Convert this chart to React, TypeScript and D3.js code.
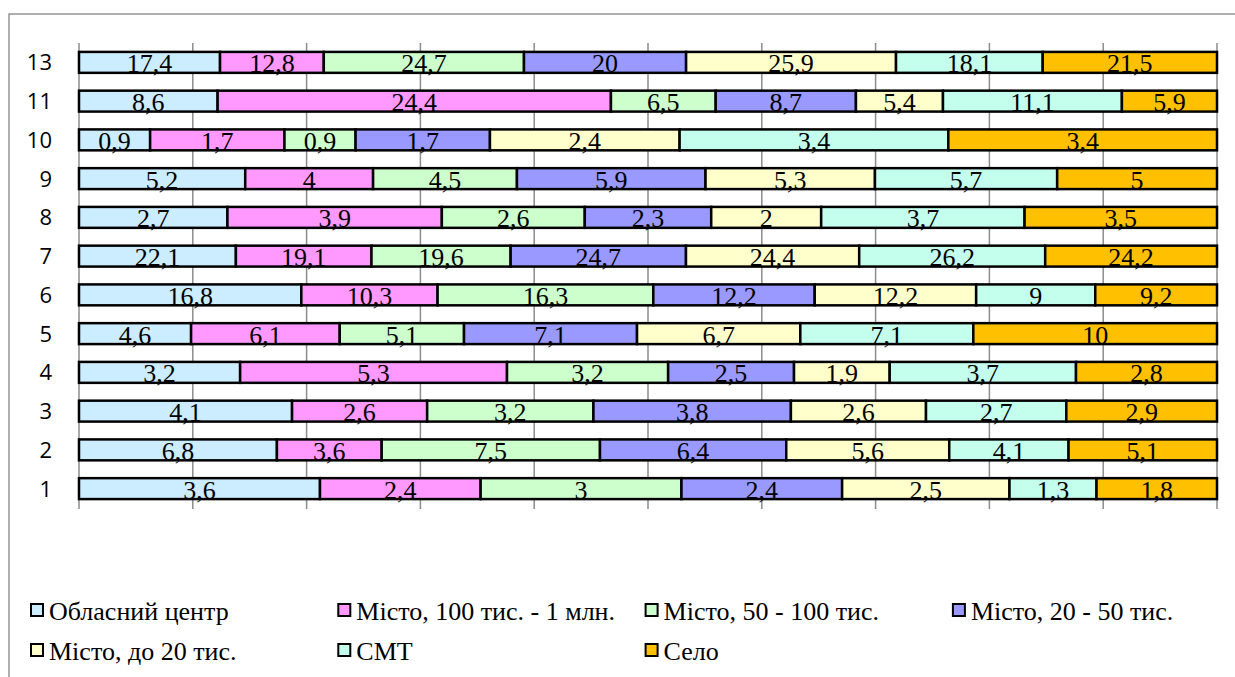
import React, { useEffect, useRef } from "react";
import * as d3 from "d3";

const categories = ["1", "2", "3", "4", "5", "6", "7", "8", "9", "10", "11", "13"];

const seriesNames = [
  "Обласний центр",
  "Місто, 100 тис. - 1 млн.",
  "Місто, 50 - 100 тис.",
  "Місто, 20 - 50 тис.",
  "Місто, до 20 тис.",
  "СМТ",
  "Село",
];

const oblCentr = [3.6, 6.8, 4.1, 3.2, 4.6, 16.8, 22.1, 2.7, 5.2, 0.9, 8.6, 17.4];
const misto100 = [2.4, 3.6, 2.6, 5.3, 6.1, 10.3, 19.1, 3.9, 4, 1.7, 24.4, 12.8];
const misto50 = [3, 7.5, 3.2, 3.2, 5.1, 16.3, 19.6, 2.6, 4.5, 0.9, 6.5, 24.7];
const misto20 = [2.4, 6.4, 3.8, 2.5, 7.1, 12.2, 24.7, 2.3, 5.9, 1.7, 8.7, 20];
const mistoDo20 = [2.5, 5.6, 2.6, 1.9, 6.7, 12.2, 24.4, 2, 5.3, 2.4, 5.4, 25.9];
const smt = [1.3, 4.1, 2.7, 3.7, 7.1, 9, 26.2, 3.7, 5.7, 3.4, 11.1, 18.1];
const selo = [1.8, 5.1, 2.9, 2.8, 10, 9.2, 24.2, 3.5, 5, 3.4, 5.9, 21.5];

const seriesValues = [oblCentr, misto100, misto50, misto20, mistoDo20, smt, selo];
const colors = ["#CCECFF", "#FF99FF", "#CCFFCC", "#9999FF", "#FFFFCC", "#C4FFEE", "#FFC000"];
const xTicks = d3.range(0, 1.0001, 0.1);

const serif = "'Liberation Serif', 'Times New Roman', serif";

const App: React.FC = () => {
  const svgRef = useRef<SVGSVGElement | null>(null);
  const width = 1235;
  const height = 677;

  useEffect(() => {
    const svg = d3.select(svgRef.current);
    svg.selectAll("*").remove();

    // chart frame (right and bottom edges fall outside the picture)
    svg.append("rect")
      .attr("x", 9).attr("y", 14)
      .attr("width", 1300).attr("height", 700)
      .attr("fill", "white").attr("stroke", "#959595").attr("stroke-width", 1.5);

    const table = categories.map((c, i) => {
      const row: any = { cat: c };
      seriesNames.forEach((s, j) => (row[s] = seriesValues[j][i]));
      return row;
    });

    const stacked = d3.stack<any>().keys(seriesNames).offset(d3.stackOffsetExpand)(table);

    const x = d3.scaleLinear().domain([0, 1]).range([79, 1217]);
    const y = d3.scaleBand()
      .domain([...categories].reverse())
      .range([43, 508])
      .paddingInner(0.46)
      .paddingOuter(0.23);

    // grid
    svg.append("g")
      .selectAll("line")
      .data(xTicks)
      .enter()
      .append("line")
      .attr("x1", d => x(d)).attr("x2", d => x(d))
      .attr("y1", 43).attr("y2", 509)
      .attr("stroke", "#8c8c8c").attr("stroke-width", 1.5);

    const layers = svg.append("g")
      .selectAll("g")
      .data(stacked)
      .enter()
      .append("g")
      .attr("fill", (d, i) => colors[i]);

    layers.selectAll("rect")
      .data(d => d)
      .enter()
      .append("rect")
      .attr("x", d => x(d[0]))
      .attr("y", d => y(d.data.cat) as number)
      .attr("width", d => x(d[1]) - x(d[0]))
      .attr("height", y.bandwidth())
      .attr("stroke", "black")
      .attr("stroke-width", 2.5);

    // value labels
    stacked.forEach((layer, j) => {
      svg.append("g")
        .selectAll("text")
        .data(layer)
        .enter()
        .append("text")
        .attr("x", d => (x(d[0]) + x(d[1])) / 2)
        .attr("y", d => (y(d.data.cat) as number) + y.bandwidth() - 0.5)
        .attr("text-anchor", "middle")
        .style("font-family", serif)
        .style("font-size", "26px")
        .attr("fill", "#000")
        .text((d, i) => String(seriesValues[j][i]).replace(".", ","));
    });

    // category labels
    svg.append("g")
      .selectAll("text")
      .data(categories)
      .enter()
      .append("text")
      .attr("x", 52)
      .attr("y", d => (y(d) as number) + y.bandwidth() / 2)
      .attr("dy", "0.36em")
      .attr("text-anchor", "end")
      .style("font-family", "'Open Sans', sans-serif")
      .style("font-size", "22px")
      .attr("fill", "#000")
      .text(d => d);

    // legend
    const legend = svg.append("g")
      .selectAll("g")
      .data(seriesNames)
      .enter()
      .append("g")
      .attr("transform", (d, i) => `translate(${30 + (i % 4) * 307.3}, ${610 + Math.floor(i / 4) * 40})`);

    legend.append("rect")
      .attr("x", 1).attr("y", -6)
      .attr("width", 12).attr("height", 12)
      .attr("fill", (d, i) => colors[i])
      .attr("stroke", "black").attr("stroke-width", 2);

    legend.append("text")
      .attr("x", 19)
      .attr("y", 10)
      .style("font-family", serif)
      .style("font-size", "26px")
      .attr("fill", "#000")
      .text(d => d);
  }, []);

  return (
    <svg
      ref={svgRef}
      width={width}
      height={height}
      style={{ position: "absolute", left: 0, top: 0, background: "white" }}
    ></svg>
  );
};

export default App;
